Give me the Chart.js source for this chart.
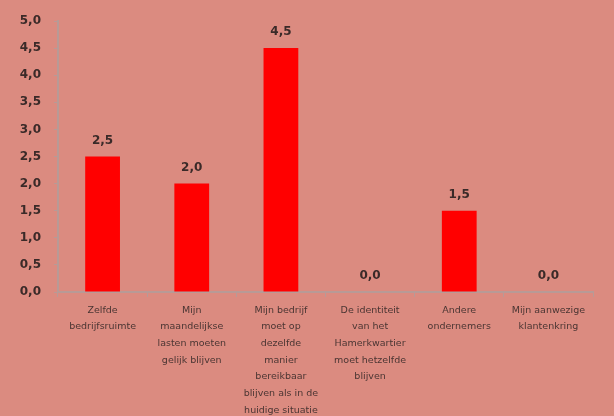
<!DOCTYPE html>
<html>
<head>
<meta charset="utf-8">
<script src="https://cdn.jsdelivr.net/npm/chart.js@4/dist/chart.umd.min.js"></script>
<style>
  html, body { margin: 0; padding: 0; background: #db8b80; }
  #wrap { width: 614px; height: 416px; }
</style>
</head>
<body>
<div id="wrap"><canvas id="barChart" width="614" height="416"></canvas></div>
<script>
const categories = [
  ['Zelfde', 'bedrijfsruimte'],
  ['Mijn', 'maandelijkse', 'lasten moeten', 'gelijk blijven'],
  ['Mijn bedrijf', 'moet op', 'dezelfde', 'manier', 'bereikbaar', 'blijven als in de', 'huidige situatie'],
  ['De identiteit', 'van het', 'Hamerkwartier', 'moet hetzelfde', 'blijven'],
  ['Andere', 'ondernemers'],
  ['Mijn aanwezige', 'klantenkring']
];
const values = [2.5, 2.0, 4.5, 0.0, 1.5, 0.0];

const fmt = (v) => Number(v).toFixed(1).replace('.', ',');

// value labels above each bar
const valueLabels = {
  id: 'valueLabels',
  afterDatasetsDraw(chart) {
    const ctx = chart.ctx;
    const meta = chart.getDatasetMeta(0);
    ctx.save();
    ctx.font = 'bold 12px "DejaVu Sans"';
    ctx.fillStyle = '#3a2a28';
    ctx.textAlign = 'center';
    ctx.textBaseline = 'bottom';
    meta.data.forEach((bar, i) => {
      ctx.fillText(fmt(values[i]), bar.x, bar.y - 10);
    });
    ctx.restore();
  }
};

new Chart(document.getElementById('barChart'), {
  type: 'bar',
  data: {
    labels: categories,
    datasets: [{
      data: values,
      backgroundColor: '#ff0000',
      barPercentage: 0.39,
      categoryPercentage: 1.0
    }]
  },
  options: {
    responsive: false,
    animation: false,
    layout: { padding: { top: 21, right: 21, left: 0, bottom: 0 } },
    plugins: { legend: { display: false }, tooltip: { enabled: false } },
    scales: {
      y: {
        min: 0,
        max: 5,
        ticks: {
          stepSize: 0.5,
          callback: (v) => fmt(v),
          color: '#3a2a28',
          font: { family: 'DejaVu Sans', size: 12, weight: 'bold' },
          padding: 13
        },
        grid: { drawOnChartArea: false, drawTicks: true, tickLength: 4, color: '#b89a96' },
        border: { color: '#b89a96', width: 2 },
        afterFit: (scale) => { scale.width = 58; }
      },
      x: {
        ticks: {
          color: '#4a3532',
          font: { family: 'DejaVu Sans', size: 9.5, lineHeight: 1.75 },
          maxRotation: 0,
          autoSkip: false,
          padding: 5
        },
        grid: { drawOnChartArea: false, drawTicks: true, tickLength: 5, color: '#b89a96', offset: true },
        border: { color: '#b89a96', width: 2 },
        afterFit: (scale) => { scale.height = 124; }
      }
    }
  },
  plugins: [valueLabels]
});
</script>
</body>
</html>
